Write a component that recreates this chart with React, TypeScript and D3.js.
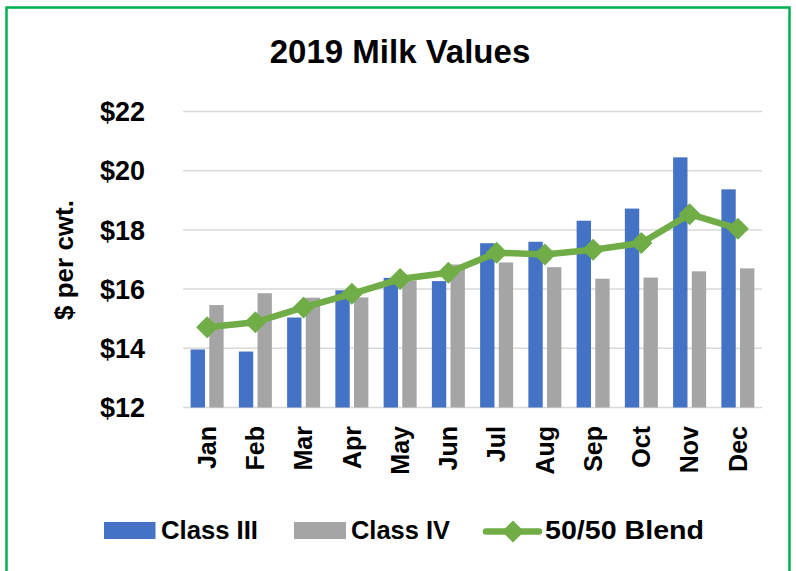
import React from "react";
import * as d3 from "d3";

const months = ["Jan", "Feb", "Mar", "Apr", "May", "Jun", "Jul", "Aug", "Sep", "Oct", "Nov", "Dec"];
const classIII = [13.96, 13.89, 15.04, 15.96, 16.38, 16.27, 17.55, 17.6, 18.31, 18.72, 20.45, 19.37];
const classIV = [15.46, 15.86, 15.71, 15.72, 16.29, 16.83, 16.9, 16.74, 16.35, 16.39, 16.6, 16.7];
const blend = [14.71, 14.88, 15.38, 15.84, 16.34, 16.55, 17.23, 17.17, 17.33, 17.56, 18.53, 18.04];
const yTicks = [12, 14, 16, 18, 20, 22];
const seriesNames = ["Class III", "Class IV", "50/50 Blend"];

const W = 796;
const H = 571;
const FONT = "'Liberation Sans', Arial, sans-serif";
const BLUE = "#4472C4";
const GRAY = "#A5A5A5";
const GREEN = "#70AD47";

export default function App() {
  const x0 = d3.scaleBand<string>().domain(months).range([183, 762]).paddingInner(0.316).paddingOuter(0.158);
  const x1 = d3.scaleBand<string>().domain(["III", "IV"]).range([0, x0.bandwidth()]).paddingInner(0.23).paddingOuter(0);
  const y = d3.scaleLinear().domain([12, 22]).range([407.5, 111.5]);
  const cx = (m: string) => (x0(m) as number) + x0.bandwidth() / 2;
  const line = d3
    .line<number>()
    .x((_, i) => cx(months[i]))
    .y((d) => y(d));
  const diamond = (px: number, py: number, r: number) =>
    `M${px},${py - r}L${px + r},${py}L${px},${py + r}L${px - r},${py}Z`;

  return (
    <svg width={W} height={H} style={{ position: "absolute", left: 0, top: 0, background: "#fff" }} fontFamily={FONT}>
      <rect x={0} y={0} width={W} height={H} fill="#fff" />
      <rect x={6.5} y={7.5} width={783} height={620} fill="none" stroke="#00B050" strokeWidth={2.5} />
      <text x={400} y={63} textAnchor="middle" fontSize={33} fontWeight="bold" fill="#000">
        2019 Milk Values
      </text>
      {yTicks.map((t) => (
        <g key={t}>
          <line x1={183} x2={762} y1={y(t)} y2={y(t)} stroke="#D9D9D9" strokeWidth={1.5} />
          <text x={145} y={y(t)} dy="0.36em" textAnchor="end" fontSize={27} fontWeight="bold" fill="#000">
            {"$" + t}
          </text>
        </g>
      ))}
      <text transform="translate(73,260) rotate(-90)" textAnchor="middle" fontSize={26} fontWeight="bold" fill="#000">
        $ per cwt.
      </text>
      {months.map((m, i) => (
        <g key={m}>
          <rect
            x={(x0(m) as number) + (x1("III") as number)}
            y={y(classIII[i])}
            width={x1.bandwidth()}
            height={y(12) - y(classIII[i])}
            fill={BLUE}
          />
          <rect
            x={(x0(m) as number) + (x1("IV") as number)}
            y={y(classIV[i])}
            width={x1.bandwidth()}
            height={y(12) - y(classIV[i])}
            fill={GRAY}
          />
          <text
            transform={`translate(${cx(m)},426) rotate(-90)`}
            dy="0.35em"
            textAnchor="end"
            fontSize={25}
            fontWeight="bold"
            fill="#000"
          >
            {m}
          </text>
        </g>
      ))}
      <path d={line(blend) || ""} fill="none" stroke={GREEN} strokeWidth={6.5} strokeLinejoin="round" />
      {blend.map((v, i) => (
        <path key={i} d={diamond(cx(months[i]), y(v), 10)} fill={GREEN} stroke={GREEN} strokeWidth={1.5} strokeLinejoin="round" />
      ))}
      {/* legend */}
      <rect x={104} y={522} width={51.5} height={17} fill={BLUE} />
      <text x={161} y={539} fontSize={25} fontWeight="bold" fill="#000" textLength={97} lengthAdjust="spacingAndGlyphs">
        {seriesNames[0]}
      </text>
      <rect x={294} y={522} width={52} height={17} fill={GRAY} />
      <text x={351} y={539} fontSize={25} fontWeight="bold" fill="#000" textLength={99} lengthAdjust="spacingAndGlyphs">
        {seriesNames[1]}
      </text>
      <line x1={486} x2={539} y1={531.5} y2={531.5} stroke={GREEN} strokeWidth={6.5} strokeLinecap="round" />
      <path d={diamond(513, 531.5, 10)} fill={GREEN} stroke={GREEN} strokeWidth={1.5} strokeLinejoin="round" />
      <text x={545} y={539} fontSize={25} fontWeight="bold" fill="#000" textLength={159} lengthAdjust="spacingAndGlyphs">
        {seriesNames[2]}
      </text>
    </svg>
  );
}
